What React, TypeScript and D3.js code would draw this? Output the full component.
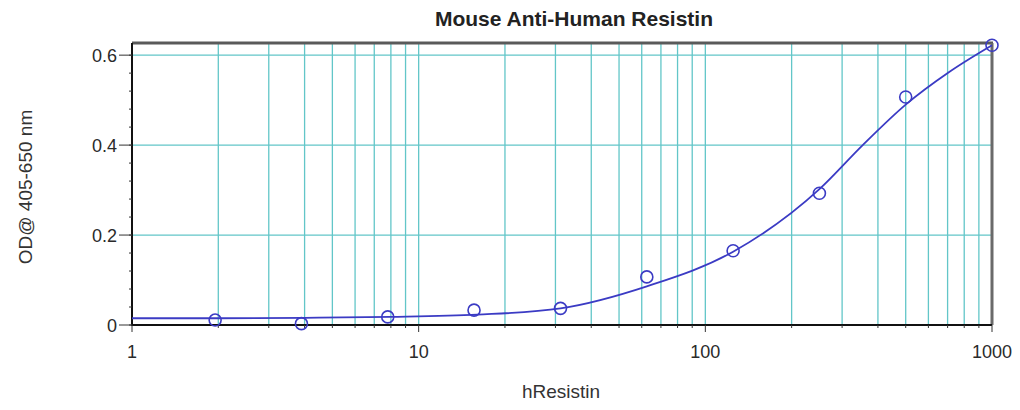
import { useEffect, useRef } from "react";
import * as d3 from "d3";

// concentrations (x) and measured OD (y)
const conc = [1.95, 3.9, 7.8, 15.6, 31.25, 62.5, 125, 250, 500, 1000];
const od = [0.011, 0.003, 0.018, 0.033, 0.037, 0.107, 0.165, 0.293, 0.507, 0.622];

// fitted curve
const fitX = [1, 2, 4, 8, 16, 31.25, 62.5, 125, 250, 354, 500, 707, 1000];
const fitY = [0.015, 0.015, 0.016, 0.018, 0.023, 0.037, 0.086, 0.163, 0.302, 0.4, 0.49, 0.562, 0.622];

const xTickLabels = [1, 10, 100, 1000];
const yTickLabels = [0, 0.2, 0.4, 0.6];

const title = "Mouse Anti-Human Resistin";
const xTitle = "hResistin";
const yTitle = "OD@ 405-650 nm";

const width = 1020;
const height = 410;
const margin = { top: 43, right: 28, bottom: 85, left: 132 };

const drawChart = (node: SVGSVGElement) => {
  const svg = d3.select(node);
  svg.selectAll("*").remove();

  const x = d3.scaleLog().domain([1, 1000]).range([margin.left, width - margin.right]);
  const y = d3.scaleLinear().domain([0, 0.627]).range([height - margin.bottom, margin.top]);

  const font = "'Liberation Sans', Arial, sans-serif";
  const x0 = x.range()[0], x1 = x.range()[1];
  const y0 = y.range()[0], y1 = y.range()[1];

  // vertical grid at every log tick
  const logTicks: number[] = [];
  for (let d = 1; d < 1000; d *= 10) {
    for (let k = 1; k < 10; k++) logTicks.push(d * k);
  }
  logTicks.push(1000);

  svg.append("g")
    .selectAll("line")
    .data(logTicks.filter(v => v > 1 && v < 1000))
    .join("line")
    .attr("x1", d => x(d)).attr("x2", d => x(d))
    .attr("y1", y1).attr("y2", y0)
    .attr("stroke", "#62c6c8")
    .attr("stroke-width", 1.3);

  // horizontal grid
  svg.append("g")
    .selectAll("line")
    .data(yTickLabels.filter(v => v > 0))
    .join("line")
    .attr("x1", x0).attr("x2", x1)
    .attr("y1", d => y(d)).attr("y2", d => y(d))
    .attr("stroke", "#62c6c8")
    .attr("stroke-width", 1.3);

  // frame: top and right gray, left and bottom black
  svg.append("line")
    .attr("x1", x0).attr("x2", x1 + 1).attr("y1", y1).attr("y2", y1)
    .attr("stroke", "#5a5a5a").attr("stroke-width", 3);
  svg.append("line")
    .attr("x1", x1).attr("x2", x1).attr("y1", y1).attr("y2", y0)
    .attr("stroke", "#6a6a6a").attr("stroke-width", 3);
  svg.append("line")
    .attr("x1", x0).attr("x2", x0).attr("y1", y1).attr("y2", y0 + 1)
    .attr("stroke", "#111").attr("stroke-width", 2);
  svg.append("line")
    .attr("x1", x0 - 1).attr("x2", x1).attr("y1", y0).attr("y2", y0)
    .attr("stroke", "#111").attr("stroke-width", 2);

  // x ticks
  svg.append("g")
    .selectAll("line")
    .data(logTicks)
    .join("line")
    .attr("x1", d => x(d)).attr("x2", d => x(d))
    .attr("y1", y0)
    .attr("y2", d => y0 + (xTickLabels.includes(d) ? 7 : 3))
    .attr("stroke", "#333").attr("stroke-width", 1);

  svg.append("g")
    .selectAll("text")
    .data(xTickLabels)
    .join("text")
    .attr("x", d => x(d))
    .attr("y", y0 + 33)
    .attr("text-anchor", "middle")
    .attr("font-family", font)
    .attr("font-size", 18)
    .attr("fill", "#2a2a2a")
    .text(d => String(d));

  // y ticks
  const yMinor = d3.range(0, 0.62, 0.04);
  svg.append("g")
    .selectAll("line")
    .data(yMinor)
    .join("line")
    .attr("x1", x0 - 3).attr("x2", x0)
    .attr("y1", d => y(d)).attr("y2", d => y(d))
    .attr("stroke", "#333").attr("stroke-width", 1);
  svg.append("g")
    .selectAll("line")
    .data(yTickLabels)
    .join("line")
    .attr("x1", x0 - 13).attr("x2", x0)
    .attr("y1", d => y(d)).attr("y2", d => y(d))
    .attr("stroke", "#333").attr("stroke-width", 1);

  svg.append("g")
    .selectAll("text")
    .data(yTickLabels)
    .join("text")
    .attr("x", x0 - 15)
    .attr("y", d => y(d) + 6.5)
    .attr("text-anchor", "end")
    .attr("font-family", font)
    .attr("font-size", 18)
    .attr("fill", "#2a2a2a")
    .text(d => (d === 0 ? "0" : d.toFixed(1)));

  // fitted curve
  const line = d3.line<number>()
    .x((_, i) => x(fitX[i]))
    .y(d => y(d))
    .curve(d3.curveMonotoneX);

  svg.append("path")
    .datum(fitY)
    .attr("d", line)
    .attr("fill", "none")
    .attr("stroke", "#3b3bc4")
    .attr("stroke-width", 1.8);

  // data points
  svg.append("g")
    .selectAll("circle")
    .data(od)
    .join("circle")
    .attr("cx", (_, i) => x(conc[i]))
    .attr("cy", d => y(d))
    .attr("r", 6)
    .attr("fill", "none")
    .attr("stroke", "#3b3bc4")
    .attr("stroke-width", 1.6);

  // titles
  svg.append("text")
    .attr("x", 574)
    .attr("y", 26)
    .attr("text-anchor", "middle")
    .attr("font-family", font)
    .attr("font-weight", "bold")
    .attr("font-size", 21)
    .attr("fill", "#222")
    .text(title);

  svg.append("text")
    .attr("x", 561)
    .attr("y", 398)
    .attr("text-anchor", "middle")
    .attr("font-family", font)
    .attr("font-size", 19)
    .attr("fill", "#333")
    .text(xTitle);

  svg.append("text")
    .attr("transform", `translate(32,187) rotate(-90)`)
    .attr("text-anchor", "middle")
    .attr("font-family", font)
    .attr("font-size", 19)
    .attr("fill", "#333")
    .text(yTitle);
};

export default function App() {
  const ref = useRef<SVGSVGElement>(null);

  useEffect(() => {
    if (ref.current) drawChart(ref.current);
  }, []);

  return (
    <svg
      ref={ref}
      width={width}
      height={height}
      style={{ position: "absolute", left: 0, top: 0, background: "#fff" }}
    />
  );
}
